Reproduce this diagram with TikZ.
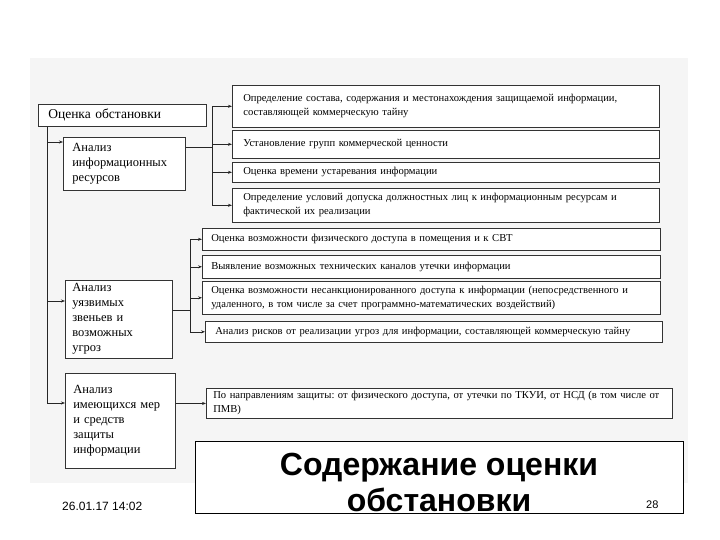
\documentclass[tikz,border=0pt]{standalone}
\usepackage{fontspec}
\setmainfont{Liberation Serif}
\setsansfont{Liberation Sans}
\usetikzlibrary{positioning,arrows.meta,calc}
\frenchspacing

\begin{document}
\begin{tikzpicture}[x=1pt,y=-1pt,>={Stealth[length=4pt,width=3pt]},every node/.style={font=\fontsize{10.6}{14}\selectfont}]
\tikzstyle{blk}=[draw=black!80,line width=0.6pt,fill=white,anchor=north west,align=left]
\tikzstyle{lft}=[blk,font=\fontsize{12.5}{15}\selectfont]
\tikzstyle{lnk}=[draw=black!85,line width=0.6pt]
\useasboundingbox (0,0) rectangle (720,540);
\fill[black!4] (30,58) rectangle (688,483);
% left column
\node[blk,font=\fontsize{13.5}{16}\selectfont,text width=148pt,inner xsep=10pt,minimum height=22pt] (main) at (38,104) {Оценка обстановки};
\node[lft,text width=104pt,inner xsep=9pt,minimum height=53pt] (a1) at (63,137) {Анализ\\информационных\\ресурсов};
\node[lft,text width=93pt,inner xsep=7pt,minimum height=76pt] (a2) at (65,280) {Анализ\\уязвимых\\звеньев и\\возможных\\угроз};
\node[lft,text width=94pt,inner xsep=8pt,minimum height=95pt] (a3) at (65,373) {Анализ\\имеющихся мер\\и средств\\защиты\\информации};
% right column
\node[blk,text width=405pt,inner xsep=11pt,minimum height=42pt] (r1) at (232,85) {Определение состава, содержания и местонахождения защищаемой информации,\\составляющей коммерческую тайну};
\node[blk,text width=405pt,inner xsep=11pt,minimum height=28pt] (r2) at (232,130) {Установление групп коммерческой ценности};
\node[blk,text width=405pt,inner xsep=11pt,minimum height=20pt] (r3) at (232,162) {Оценка времени устаревания информации};
\node[blk,text width=405pt,inner xsep=11pt,minimum height=34pt] (r4) at (232,188) {Определение условий допуска должностных лиц к информационным ресурсам и\\фактической их реализации};
\node[blk,text width=440pt,inner xsep=9pt,minimum height=22pt] (q1) at (202,228) {Оценка возможности физического доступа в помещения и к СВТ};
\node[blk,text width=440pt,inner xsep=9pt,minimum height=23pt] (q2) at (202,255) {Выявление возможных технических каналов утечки информации};
\node[blk,text width=440pt,inner xsep=9pt,minimum height=33pt] (q3) at (202,281) {Оценка возможности несанкционированного доступа к информации (непосредственного и\\удаленного, в том числе за счет программно-математических воздействий)};
\node[blk,text width=437pt,inner xsep=10pt,minimum height=21pt] (q4) at (205,321) {Анализ рисков от реализации угроз для информации, составляющей коммерческую тайну};
\node[blk,text width=452pt,inner xsep=7pt,minimum height=27pt] (p1) at (206,388) {По направлениям защиты: от физического доступа, от утечки по ТКУИ, от НСД (в том числе от\\ПМВ)};
% connectors
\coordinate (v) at ($(main.south west)+(9,0)$);
\draw[lnk,->] (v) |- ($(a1.north west)+(0,5)$);
\draw[lnk,->] (v) |- ($(a2.north west)+(0,21)$);
\draw[lnk,->] (v) |- ($(a3.north west)+(0,30)$);
\coordinate (b1) at ($(a1.north east)+(27,10)$);
\draw[lnk] (a1.east |- b1) -- (b1);
\foreach \n in {r1,r2,r3,r4} \draw[lnk,->] (b1) |- (\n.west);
\coordinate (b2) at ($(a2.north east)+(18,30)$);
\draw[lnk] (a2.east |- b2) -- (b2);
\foreach \n in {q1,q2,q3,q4} \draw[lnk,->] (b2) |- (\n.west);
\draw[lnk,->] (a3.east |- p1.west) -- (p1.west);
% slide title and footer
\node[draw,fill=white,line width=0.8pt,minimum width=488pt,minimum height=72pt,inner sep=0pt] (ttl) at (439,477) {};
\node[font=\sffamily\bfseries\fontsize{32}{36}\selectfont,anchor=base] (ttl1) at (439,475) {Содержание оценки};
\node[font=\sffamily\bfseries\fontsize{32}{36}\selectfont,anchor=base] (ttl2) at (439,511) {обстановки};
\node[font=\sffamily\fontsize{12}{14}\selectfont,anchor=base west,inner sep=0pt] (date) at (62,510) {26.01.17 14:02};
\node[font=\sffamily\fontsize{11}{13}\selectfont,anchor=base west,inner sep=0pt] (pg) at (646,508) {28};
\end{tikzpicture}
\end{document}
